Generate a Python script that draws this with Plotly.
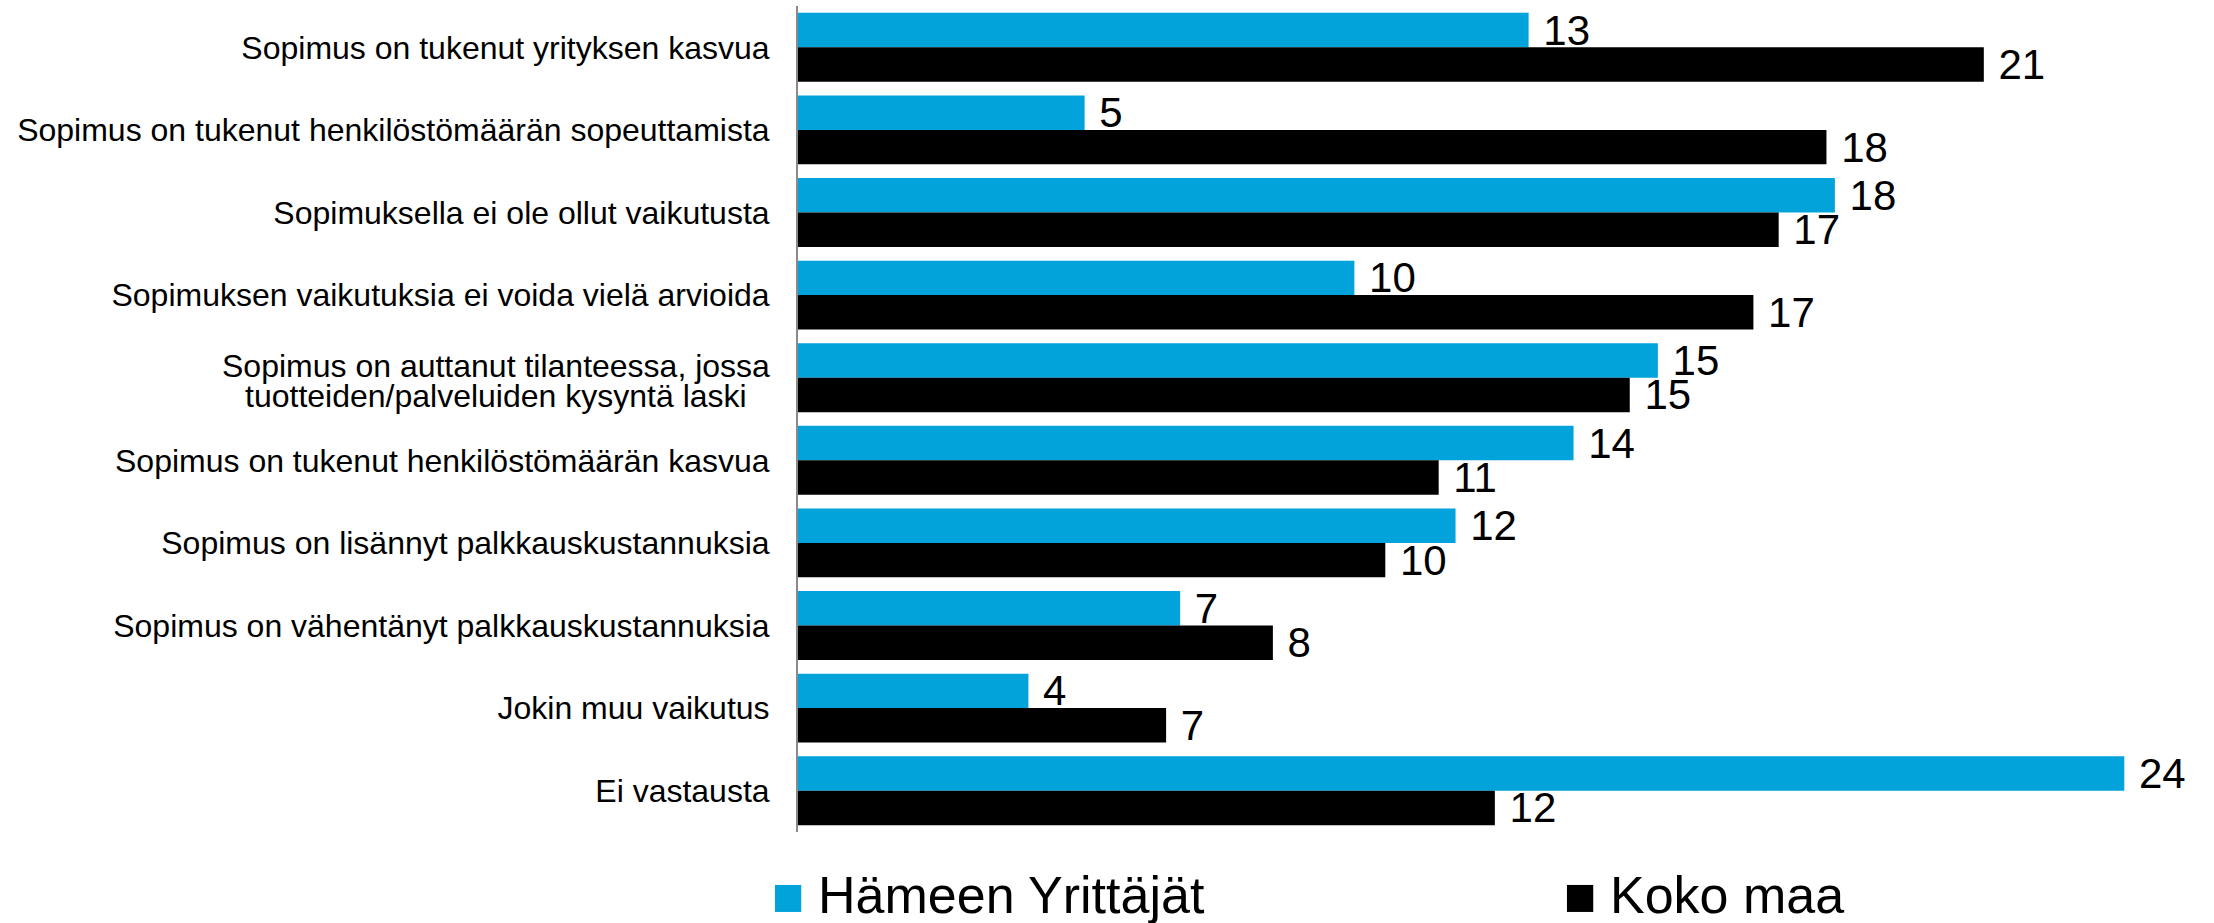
import plotly.graph_objects as go

categories = [
    "Sopimus on tukenut yrityksen kasvua",
    "Sopimus on tukenut henkilöstömäärän sopeuttamista",
    "Sopimuksella ei ole ollut vaikutusta",
    "Sopimuksen vaikutuksia ei voida vielä arvioida",
    "Sopimus on auttanut tilanteessa, jossa tuotteiden/palveluiden kysyntä laski",
    "Sopimus on tukenut henkilöstömäärän kasvua",
    "Sopimus on lisännyt palkkauskustannuksia",
    "Sopimus on vähentänyt palkkauskustannuksia",
    "Jokin muu vaikutus",
    "Ei vastausta",
]
# the long label is wrapped onto two tightly spaced lines
wrapped_index = 4
wrapped_lines = ["Sopimus on auttanut tilanteessa, jossa",
                 "tuotteiden/palveluiden kysyntä laski"]
tick_labels = ["" if i == wrapped_index else c for i, c in enumerate(categories)]

hameen = [13.0, 5.1, 18.45, 9.9, 15.3, 13.8, 11.7, 6.8, 4.1, 23.6]
koko_maa = [21.1, 18.3, 17.45, 17.0, 14.8, 11.4, 10.45, 8.45, 6.55, 12.4]
series_names = ["Hämeen Yrittäjät", "Koko maa"]
colors = ["#02A3DA", "#000000"]

FONT = "Arial, Liberation Sans, sans-serif"

fig = go.Figure()
for name, vals, col in zip(series_names, [hameen, koko_maa], colors):
    fig.add_trace(go.Bar(
        y=categories, x=vals, name=name, orientation="h",
        marker=dict(color=col, line=dict(width=0)),
        texttemplate="\u00a0%{x:.0f}", textposition="outside",
        textfont=dict(family=FONT, size=42, color="#000000"),
        constraintext="none", cliponaxis=False, showlegend=False,
    ))

fig.update_layout(
    width=2214, height=923,
    margin=dict(l=798, r=11, t=5.5, b=91, pad=0),
    paper_bgcolor="white", plot_bgcolor="white",
    barmode="group", bargap=0.166, bargroupgap=0,
    font=dict(family=FONT, color="#000000"),
    showlegend=False,
)
fig.update_xaxes(range=[0, 25], visible=False)
fig.update_yaxes(
    autorange="reversed", showline=True, linecolor="#8a8a8a", linewidth=2,
    ticks="", showgrid=False, zeroline=False,
    tickmode="array", tickvals=categories, ticktext=tick_labels,
    tickfont=dict(family=FONT, size=32, color="#000000"),
    ticklabelstandoff=20,
)

# two-line category label, centred lines with tight spacing
for line, ys in zip(wrapped_lines, [12.0, -18.0]):
    fig.add_annotation(xref="paper", yref="y", x=0, y=categories[wrapped_index],
                       xanchor="center", yanchor="middle", xshift=-302, yshift=ys,
                       text=line, showarrow=False,
                       font=dict(family=FONT, size=32, color="#000000"))

# custom legend (large square swatches)
legend_x = [-0.0164, 0.5473]
sw = 0.0187
for name, col, lx in zip(series_names, colors, legend_x):
    fig.add_shape(type="rect", xref="paper", yref="paper",
                  x0=lx, x1=lx + sw, y0=-0.0968, y1=-0.0641,
                  fillcolor=col, line=dict(width=0))
    fig.add_annotation(xref="paper", yref="paper", x=lx + sw + 0.0105, y=-0.0765,
                       text=name, showarrow=False, xanchor="left", yanchor="middle",
                       font=dict(family=FONT, size=52, color="#000000"))

fig.write_html("out.html", config={"displayModeBar": False},
               post_script="document.body.style.margin='0';")
